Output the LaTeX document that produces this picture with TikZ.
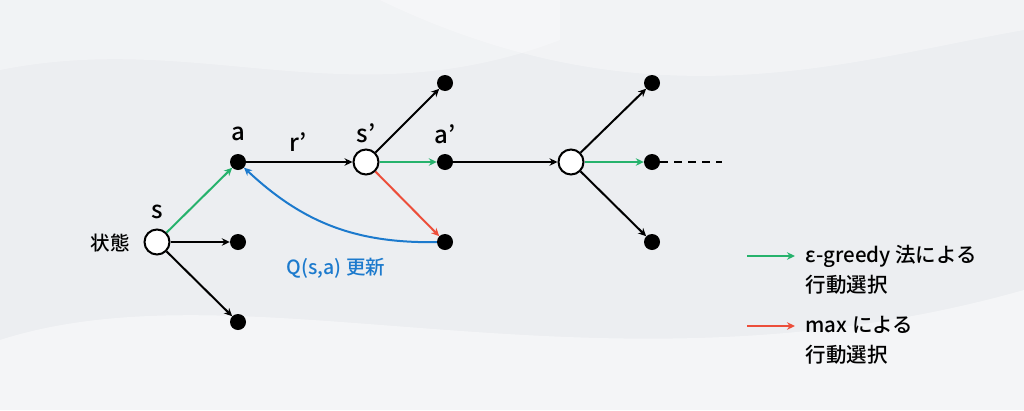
\documentclass[tikz,border=0pt]{standalone}
\usepackage{fontspec}
\setmainfont{Noto Sans CJK JP Medium}
\usetikzlibrary{arrows.meta}

\definecolor{bggray}{RGB}{236,238,241}
\definecolor{egreen}{RGB}{38,178,108}
\definecolor{mred}{RGB}{236,78,58}
\definecolor{qblue}{RGB}{28,122,205}

\begin{document}
\begin{tikzpicture}[x=1pt,y=-1pt,
    % styles
    state/.style={circle,draw=black,line width=2pt,fill=white,minimum size=25pt,inner sep=0pt},
    action/.style={circle,fill=black,minimum size=16pt,inner sep=0pt},
    edge/.style={line width=2pt,-{Stealth[length=8pt,width=7.5pt]}},
    greedy/.style={edge,draw=egreen},
    maxsel/.style={edge,draw=mred},
    update/.style={edge,draw=qblue},
    big label/.style={font=\fontsize{24}{26}\selectfont},
    small label/.style={font=\fontsize{19.5}{22}\selectfont},
    legend text/.style={font=\fontsize{20.5}{30}\selectfont,align=left,anchor=west}]

  % background
  \fill[bggray] (0,0) rectangle (1024,410);
  \fill[white,opacity=0.45] (0,340) .. controls (250,260) and (600,410) .. (1024,290)
    -- (1024,410) -- (0,410) -- cycle;
  \fill[white,opacity=0.35] (380,0) .. controls (650,130) and (850,60) .. (1024,30)
    -- (1024,0) -- cycle;
  \fill[white,opacity=0.3] (0,70) .. controls (200,30) and (350,120) .. (560,40)
    -- (560,0) -- (0,0) -- cycle;

  % states and actions
  \node[state] (s) at (157,242) {};
  \node[action] (a) at (238,162) {};
  \node[action] (a2) at (238,242) {};
  \node[action] (a3) at (238,322) {};
  \node[state] (sp) at (366,162) {};
  \node[action] (sp1) at (445,83) {};
  \node[action] (ap) at (445,162) {};
  \node[action] (sp3) at (445,242) {};
  \node[state] (t) at (571,162) {};
  \node[action] (t1) at (652,83) {};
  \node[action] (t2) at (652,162) {};
  \node[action] (t3) at (652,242) {};
  \coordinate (tend) at (722,162);

  % transitions
  \draw[greedy] (s) -- (a);
  \draw[edge] (s) -- (a2);
  \draw[edge] (s) -- (a3);
  \draw[edge] (a) -- (sp);
  \draw[edge] (sp) -- (sp1);
  \draw[greedy] (sp) -- (ap);
  \draw[maxsel] (sp) -- (sp3);
  \draw[edge] (ap) -- (t);
  \draw[edge] (t) -- (t1);
  \draw[greedy] (t) -- (t2);
  \draw[edge] (t) -- (t3);
  \draw[line width=2pt,dash pattern=on 8pt off 6pt] (t2) -- (tend);

  % update of Q
  \draw[update] (sp3) to[bend left=22] (a);

  % text
  \node[big label] (slab) at (157,212) {s};
  \node[small label] (statelab) at (110,243) {状態};
  \node[big label] (alab) at (238,134) {a};
  \node[big label] (rlab) at (298,142) {r’};
  \node[big label] (splab) at (366,133) {s’};
  \node[big label] (aplab) at (445,134) {a’};
  \node[small label,text=qblue] (qlab) at (336,268) {Q(s,a) 更新};

  % legend
  \coordinate (g1) at (747,256);
  \coordinate (g2) at (795,256);
  \draw[greedy] (g1) -- (g2);
  \node[legend text] (glab) at (802,270) {ε-greedy 法による\\行動選択};
  \coordinate (m1) at (747,326);
  \coordinate (m2) at (795,326);
  \draw[maxsel] (m1) -- (m2);
  \node[legend text] (mlab) at (802,340) {max による\\行動選択};

\end{tikzpicture}
\end{document}
